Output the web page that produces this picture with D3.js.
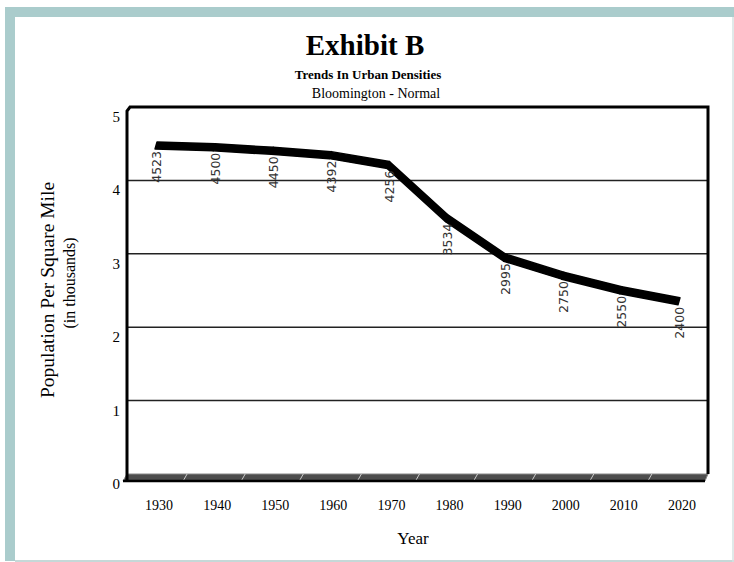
<!DOCTYPE html>
<html>
<head>
<meta charset="utf-8">
<script src="https://cdn.jsdelivr.net/npm/d3@7"></script>
<style>
  body { margin: 0; background: #fff; }
  svg { display: block; }
</style>
</head>
<body>
<div id="chart"></div>
<script>
// data
var years = ['1930', '1940', '1950', '1960', '1970', '1980', '1990', '2000', '2010', '2020'];
var density = [4523, 4500, 4450, 4392, 4256, 3534, 2995, 2750, 2550, 2400];
var yTicks = [0, 1, 2, 3, 4, 5];

(function () {
    var width = 734, height = 562;
    var pLeft = 127, pRight = 708, pTop = 107, pBottom = 474;
    var depth = 7; // 3d floor / ribbon depth

    var svg = d3.select('#chart').append('svg')
        .attr('width', width)
        .attr('height', height);

    // frame round the page
    svg.append('rect').attr('x', 5).attr('y', 7).attr('width', width - 5).attr('height', 10).attr('fill', '#aacccc');
    svg.append('rect').attr('x', 5).attr('y', 7).attr('width', 10).attr('height', height - 8).attr('fill', '#aacccc');
    svg.append('line').attr('x1', 15).attr('x2', width).attr('y1', 561).attr('y2', 561)
        .attr('stroke', '#c6d8d8').attr('stroke-width', 2);
    svg.append('line').attr('x1', 733).attr('x2', 733).attr('y1', 17).attr('y2', 562)
        .attr('stroke', '#d6e2e2').attr('stroke-width', 1.5);

    var x = d3.scaleBand().domain(years).range([pLeft, pRight]);
    var y = d3.scaleLinear().domain([0, 5]).range([pBottom, pTop]);

    // titles
    svg.append('text').attr('x', 365).attr('y', 55)
        .attr('text-anchor', 'middle')
        .style('font', 'bold 29px "Liberation Serif", serif')
        .text('Exhibit B');
    svg.append('text').attr('x', 368).attr('y', 79)
        .attr('text-anchor', 'middle')
        .style('font', 'bold 13px "Liberation Serif", serif')
        .text('Trends  In  Urban  Densities');
    svg.append('text').attr('x', 376).attr('y', 98)
        .attr('text-anchor', 'middle')
        .style('font', '14px "Liberation Serif", serif')
        .text('Bloomington - Normal');

    // gridlines on the back wall
    svg.append('g').selectAll('line')
        .data(yTicks.filter(function (d) { return d > 0 && d < 5; }))
        .enter().append('line')
        .attr('x1', pLeft).attr('x2', pRight)
        .attr('y1', function (d) { return y(d); })
        .attr('y2', function (d) { return y(d); })
        .attr('stroke', '#222')
        .attr('stroke-width', 1.5);

    // floor slab
    var floor = svg.append('g');
    floor.append('path')
        .attr('d', 'M' + pLeft + ',' + pBottom + 'L' + pRight + ',' + pBottom +
            'L' + (pRight - 3) + ',' + (pBottom + depth) + 'L' + (pLeft - 4) + ',' + (pBottom + depth) + 'Z')
        .attr('fill', '#4d4d4d')
        .attr('stroke', '#888')
        .attr('stroke-width', 1);
    floor.selectAll('line.div')
        .data(years.slice(1))
        .enter().append('line')
        .attr('class', 'div')
        .attr('x1', function (d) { return x(d) + 2; })
        .attr('x2', function (d) { return x(d) - 2; })
        .attr('y1', pBottom)
        .attr('y2', pBottom + depth)
        .attr('stroke', '#ccc')
        .attr('stroke-width', 1);
    floor.append('line')
        .attr('x1', pLeft - 4).attr('x2', pRight - 3)
        .attr('y1', pBottom + depth).attr('y2', pBottom + depth)
        .attr('stroke', '#000').attr('stroke-width', 2.5);

    // walls
    svg.append('path')
        .attr('d', 'M' + pLeft + ',' + (pBottom + depth) + 'L' + pLeft + ',' + (pTop + 4) +
            'L' + (pLeft + 3) + ',' + pTop + 'L' + pRight + ',' + pTop + 'L' + pRight + ',' + pBottom)
        .attr('fill', 'none')
        .attr('stroke', '#000')
        .attr('stroke-width', 3);

    // y axis labels
    svg.append('g').selectAll('text')
        .data(yTicks)
        .enter().append('text')
        .attr('x', 120)
        .attr('y', function (d) { return y(d) + 15; })
        .attr('text-anchor', 'end')
        .style('font', '15px "Liberation Serif", serif')
        .text(function (d) { return d; });

    // x axis labels
    svg.append('g').selectAll('text')
        .data(years)
        .enter().append('text')
        .attr('x', function (d) { return x(d) + x.bandwidth() / 2 + 3; })
        .attr('y', 510)
        .attr('text-anchor', 'middle')
        .style('font', '14px "Liberation Serif", serif')
        .text(function (d) { return d; });

    svg.append('text').attr('x', 413).attr('y', 544)
        .attr('text-anchor', 'middle')
        .style('font', '17px "Liberation Serif", serif')
        .text('Year');

    svg.append('text')
        .attr('transform', 'translate(54,290) rotate(-90)')
        .attr('text-anchor', 'middle')
        .style('font', '19.5px "Liberation Serif", serif')
        .text('Population Per Square Mile');
    svg.append('text')
        .attr('transform', 'translate(75,283) rotate(-90)')
        .attr('text-anchor', 'middle')
        .style('font', '16px "Liberation Serif", serif')
        .text('(in thousands)');

    // the 3d ribbon line
    var pts = years.map(function (yr, i) {
        return { x: x(yr) + x.bandwidth() / 2, y: y(density[i] / 1000) };
    });
    var ribbon = svg.append('g');
    for (var i = 0; i < pts.length - 1; i++) {
        var a = pts[i], b = pts[i + 1];
        ribbon.append('path')
            .attr('d', 'M' + (a.x + 1) + ',' + a.y + 'L' + (b.x + 1) + ',' + b.y +
                'L' + (b.x - 1) + ',' + (b.y + depth) + 'L' + (a.x - 1) + ',' + (a.y + depth) + 'Z')
            .attr('fill', '#000')
            .attr('stroke', '#000')
            .attr('stroke-width', 1.5)
            .attr('stroke-linejoin', 'round');
    }

    // value labels, rotated
    svg.append('g').selectAll('text')
        .data(pts)
        .enter().append('text')
        .attr('transform', function (d) {
            return 'translate(' + (d.x + 1) + ',' + (d.y + depth + 2) + ') rotate(-90)';
        })
        .attr('text-anchor', 'end')
        .attr('dy', '0.35em')
        .attr('fill', '#333')
        .style('font', '12.5px "DejaVu Sans", sans-serif')
        .text(function (d, i) { return density[i]; });
})();
</script>
</body>
</html>
